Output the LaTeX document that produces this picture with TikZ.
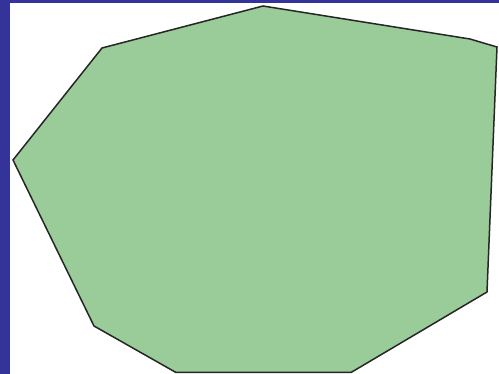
\documentclass[tikz,border=0pt]{standalone}
\begin{document}
\begin{tikzpicture}[x=1pt,y=-1pt]
\definecolor{frameblue}{HTML}{333399}
\definecolor{hullgreen}{HTML}{99CC99}
\useasboundingbox (0,0) rectangle (499,374);
\fill[white] (0,0) rectangle (499,374);
\fill[frameblue] (0,0) rectangle (10,374);
\fill[frameblue] (0,0) rectangle (499,3);
\begin{scope}
\clip (10,3) rectangle (499,374);
\filldraw[fill=hullgreen, draw=black!85, line width=1.5pt, line join=miter]
  (263,6) -- (470,39) -- (497,47) -- (487,292) -- (351,372.5) -- (176,372.5)
  -- (94,326) -- (13,160) -- (102,48) -- cycle;
\end{scope}
\end{tikzpicture}
\end{document}
